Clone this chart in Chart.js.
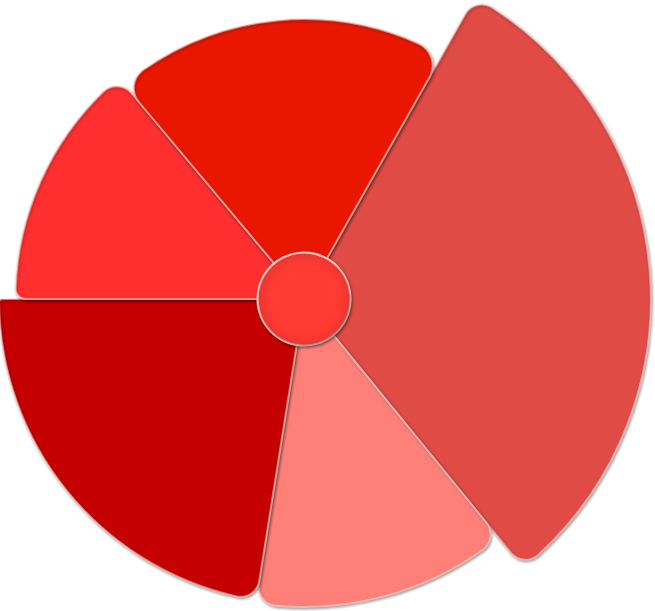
<!DOCTYPE html>
<html>
<head>
<meta charset="utf-8">
<script src="https://cdn.jsdelivr.net/npm/chart.js@4.4.1/dist/chart.umd.min.js"></script>
<style>
  html, body { margin: 0; padding: 0; background: #ffffff; }
  #wrap { width: 655px; height: 611px; }
</style>
</head>
<body>
<div id="wrap"><canvas id="c" width="655" height="611"></canvas></div>
<script>
// ---- data ----
const categories = ["A", "B", "C", "D", "E"];
// share of the circle taken by each slice (angle)
const shares = [30.92, 13.39, 22.5, 13.89, 19.3];
// radial value of each slice
const radii = [116, 103, 102, 96.5, 93.6];
const colors = ["#E04B45", "#FF8078", "#C40000", "#FF2F2F", "#E91700"];
const hubValue = [15.2];
const hubRing = [15.9];
const scaleMax = 100;

const shareSum = shares.reduce((a, b) => a + b, 0);
const angles = shares.map(v => v / shareSum * 360);

const shadowPlugin = {
  id: 'shadow',
  beforeDatasetDraw(chart, args) {
    const ctx = chart.ctx;
    ctx.save();
    ctx.shadowColor = 'rgba(0,0,0,0.42)';
    ctx.shadowBlur = 3;
    ctx.shadowOffsetX = 1;
    ctx.shadowOffsetY = 1.5;
  },
  afterDatasetDraw(chart) {
    chart.ctx.restore();
  }
};

function hubGradient(context) {
  const chart = context.chart;
  const s = chart.scales.r;
  if (!s || !s.xCenter) return '#FF3A34';
  const r = s.getDistanceFromCenterForValue(hubValue[0]);
  const g = chart.ctx.createRadialGradient(s.xCenter, s.yCenter, 0, s.xCenter, s.yCenter, r);
  g.addColorStop(0, '#FF3B34');
  g.addColorStop(0.75, '#FF3B34');
  g.addColorStop(1, '#EE3530');
  return g;
}

const corner = (s, e) => ({ outerStart: s, outerEnd: e, innerStart: 0, innerEnd: 0 });

new Chart(document.getElementById('c'), {
  type: 'polarArea',
  data: {
    labels: categories,
    datasets: [
      {
        data: hubValue,
        angle: 360,
        backgroundColor: hubGradient,
        borderWidth: 0
      },
      {
        data: hubRing,
        angle: 360,
        backgroundColor: 'rgba(255,200,195,1)',
        borderWidth: 0
      },
      {
        data: radii,
        angle: angles,
        backgroundColor: colors,
        borderColor: 'rgba(255,225,220,0.55)',
        borderWidth: 2,
        borderRadius: [corner(19, 19), corner(19, 19), corner(19, 3), corner(10, 19), corner(22, 24)]
      }
    ]
  },
  options: {
    responsive: false,
    animation: false,
    layout: { padding: { left: 0, top: 0, right: 47, bottom: 13 } },
    plugins: {
      legend: { display: false },
      tooltip: { enabled: false }
    },
    scales: {
      r: {
        min: 0,
        max: scaleMax,
        startAngle: 29.5,
        ticks: { display: false },
        grid: { display: false },
        angleLines: { display: false },
        pointLabels: { display: false }
      }
    }
  },
  plugins: [shadowPlugin]
});
</script>
</body>
</html>
